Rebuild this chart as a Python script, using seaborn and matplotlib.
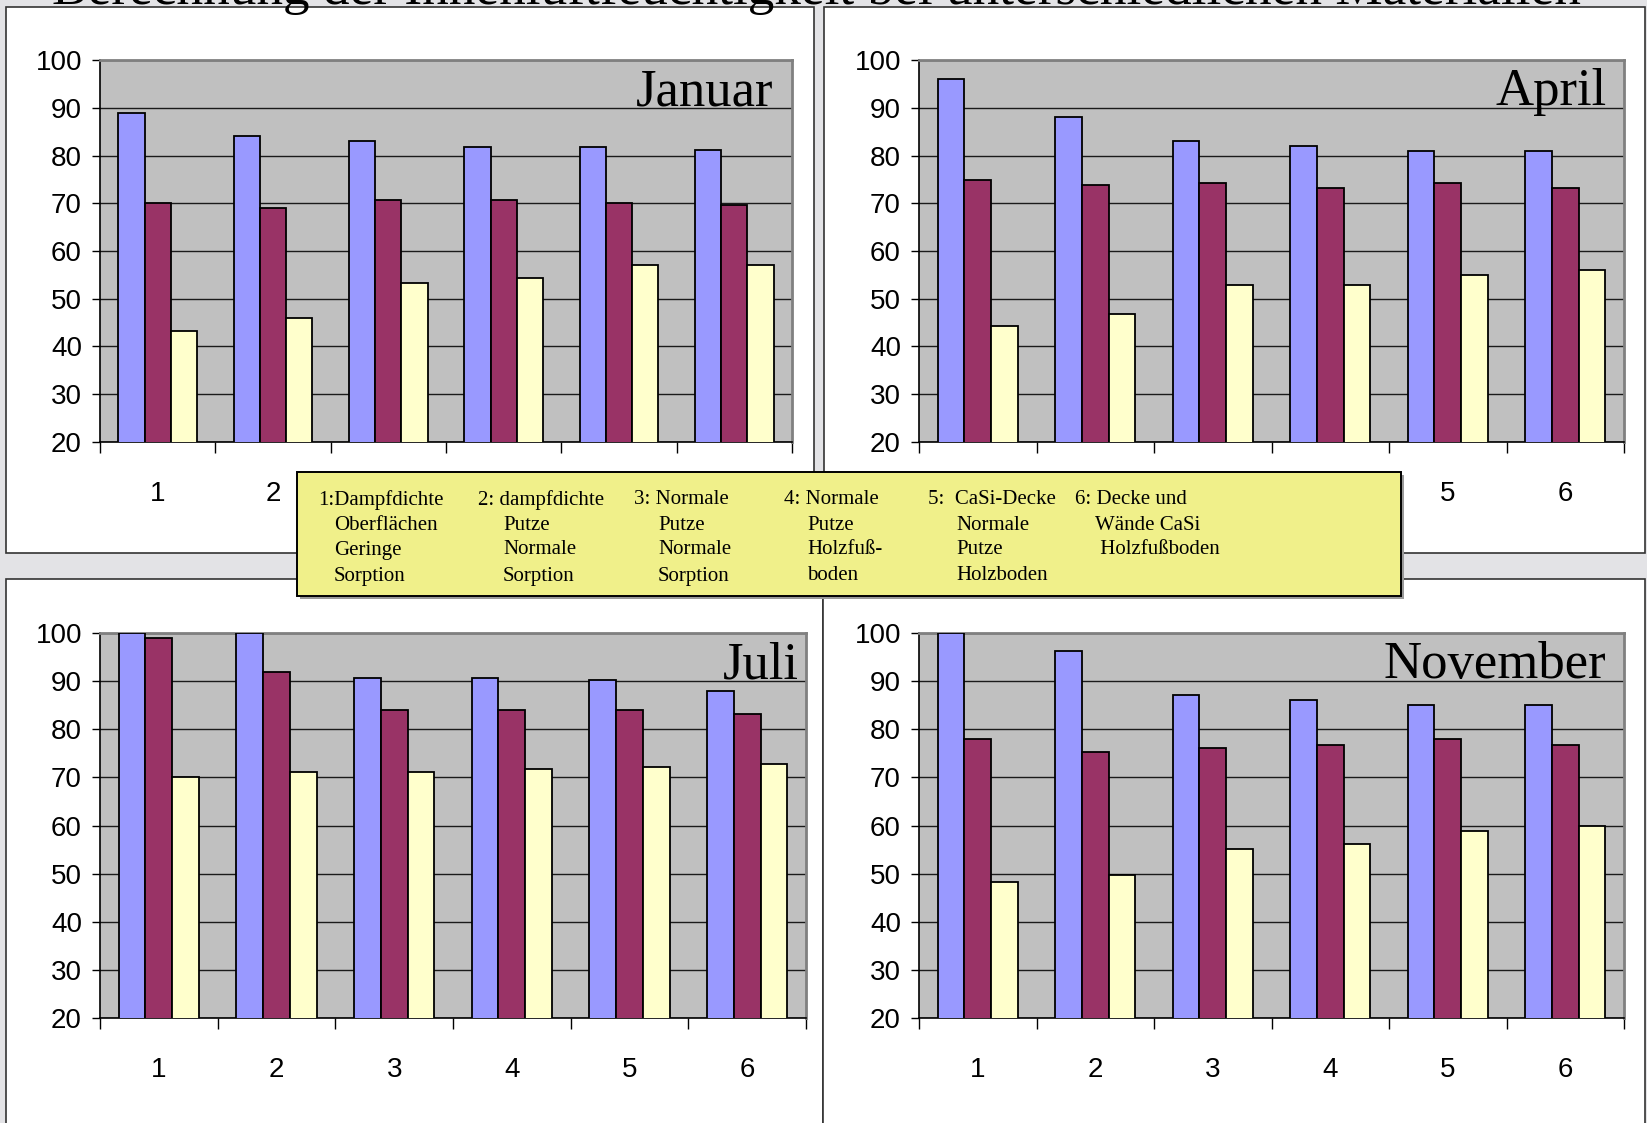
import numpy as np
import pandas as pd
import matplotlib
matplotlib.use("Agg")
import matplotlib.pyplot as plt
from matplotlib.patches import Rectangle
import seaborn as sns

# ---------------- data ----------------
categories = ["1", "2", "3", "4", "5", "6"]
series_names = ["Reihe 1", "Reihe 2", "Reihe 3"]
series_colors = ["#9999FF", "#993366", "#FFFFCC"]
months = ["Januar", "April", "Juli", "November"]

januar_r1 = [89.0, 84.0, 83.0, 81.8, 81.8, 81.2]
januar_r2 = [70.1, 69.1, 70.6, 70.6, 70.1, 69.6]
januar_r3 = [43.2, 46.0, 53.2, 54.3, 57.0, 57.0]

april_r1 = [96.1, 88.0, 83.1, 82.0, 81.0, 81.0]
april_r2 = [74.8, 73.8, 74.3, 73.2, 74.3, 73.2]
april_r3 = [44.2, 46.8, 52.8, 52.8, 55.0, 56.1]

juli_r1 = [100.0, 100.0, 90.7, 90.7, 90.2, 88.0]
juli_r2 = [98.9, 91.8, 84.1, 84.1, 84.1, 83.1]
juli_r3 = [70.0, 71.1, 71.1, 71.7, 72.2, 72.8]

november_r1 = [100.0, 96.3, 87.1, 86.0, 85.0, 85.0]
november_r2 = [77.9, 75.2, 76.2, 76.8, 77.9, 76.8]
november_r3 = [48.2, 49.8, 55.1, 56.2, 58.9, 60.0]

y_ticks = [20, 30, 40, 50, 60, 70, 80, 90, 100]

title_text = "Berechnung der Innenluftfeuchtigkeit bei unterschiedlichen Materialien"

legend_col1 = ["1:Dampfdichte", "Oberflächen", "Geringe", "Sorption"]
legend_col2 = ["2: dampfdichte", "Putze", "Normale", "Sorption"]
legend_col3 = ["3: Normale", "Putze", "Normale", "Sorption"]
legend_col4 = ["4: Normale", "Putze", "Holzfuß-", "boden"]
legend_col5 = ["5:  CaSi-Decke", "Normale", "Putze", "Holzboden"]
legend_col6 = ["6: Decke und", "Wände CaSi", " Holzfußboden"]

month_series = {
    "Januar": [januar_r1, januar_r2, januar_r3],
    "April": [april_r1, april_r2, april_r3],
    "Juli": [juli_r1, juli_r2, juli_r3],
    "November": [november_r1, november_r2, november_r3],
}

rows = []
for m in months:
    for s_name, vals in zip(series_names, month_series[m]):
        for c, v in zip(categories, vals):
            rows.append({"Monat": m, "Kategorie": c, "Reihe": s_name, "Wert": v})
df = pd.DataFrame(rows)

# ---------------- figure ----------------
W, H = 1647, 1123
fig = plt.figure(figsize=(W / 100, H / 100), dpi=100)
fig.patch.set_facecolor("#E3E3E6")

SERIF = "Liberation Serif"
SANS = "Liberation Sans"


def px_rect(x0, y0, x1, y1):
    """pixel box (top-left origin) -> figure fraction [l, b, w, h]"""
    return [x0 / W, 1 - y1 / H, (x1 - x0) / W, (y1 - y0) / H]


# panel frames (white boxes)
panels = [(6, 7, 814, 553), (824, 7, 1645, 553), (6, 579, 823, 1130), (823, 579, 1645, 1130)]
for (x0, y0, x1, y1) in panels:
    l, b, w, h = px_rect(x0, y0, x1, y1)
    fig.patches.append(Rectangle((l, b), w, h, transform=fig.transFigure,
                                 facecolor="white", edgecolor="#333333",
                                 linewidth=1.2, zorder=-5))

axes_boxes = {
    "Januar": (100, 60, 792, 442),
    "April": (919, 60, 1624, 442),
    "Juli": (100, 633, 806, 1018),
    "November": (919, 633, 1624, 1018),
}
label_x = {"Januar": 0.9725, "April": 0.975, "Juli": 0.99, "November": 0.975}

# legend box extent (pixels)
lx0, ly0, lx1, ly1 = 297, 472, 1401, 596

for m in months:
    bx0, by0, bx1, by1 = axes_boxes[m]
    ax = fig.add_axes(px_rect(bx0, by0, bx1, by1))
    sub = df[df["Monat"] == m]
    sns.barplot(data=sub, x="Kategorie", y="Wert", hue="Reihe",
                order=categories, hue_order=series_names,
                palette=series_colors, saturation=1, width=0.68, gap=0,
                edgecolor="black", linewidth=1.3, errorbar=None,
                legend=False, ax=ax, zorder=3)
    ax.set_facecolor("#C0C0C0")
    ax.set_ylim(20, 100)
    ax.set_xlim(-0.5, len(categories) - 0.5)
    ax.set_yticks(y_ticks)
    ax.set_yticklabels([str(t) for t in y_ticks], fontsize=20, family=SANS)
    ax.set_xticks(range(len(categories)))
    xlabels = ax.set_xticklabels(categories, fontsize=20, family=SANS)
    ax.set_xticks(np.arange(-0.5, len(categories), 1), minor=True)
    ax.set_xlabel("")
    ax.set_ylabel("")
    ax.yaxis.grid(True, color="#1A1A1A", linewidth=1.0, zorder=1)
    ax.xaxis.grid(False)
    ax.set_axisbelow(True)
    ax.tick_params(axis="y", which="major", length=6, width=1.0, color="black",
                   pad=7, labelcolor="black")
    ax.tick_params(axis="x", which="major", length=0, pad=28, labelcolor="black")
    ax.tick_params(axis="x", which="minor", length=8, width=1.0, color="black")
    for sp in ("top", "right"):
        ax.spines[sp].set_color("#808080")
        ax.spines[sp].set_linewidth(2.0)
    for sp in ("left", "bottom"):
        ax.spines[sp].set_color("black")
        ax.spines[sp].set_linewidth(1.2)
    # category labels that sit under the legend box are covered in the reference
    if by1 < ly0:
        for i, lab in enumerate(xlabels):
            cx = bx0 + (i + 0.5) / len(categories) * (bx1 - bx0)
            if lx0 - 10 < cx < lx1 + 10:
                lab.set_visible(False)
    ax.text(label_x[m], 0.882, m, transform=ax.transAxes, ha="right",
            va="baseline", fontsize=38, family=SERIF, color="black", zorder=5)

# legend box (drawn over the axes)
l, b, w, h = px_rect(lx0 + 3, ly0 + 3, lx1 + 3, ly1 + 3)
fig.patches.append(Rectangle((l, b), w, h, transform=fig.transFigure,
                             facecolor="#9A9A9A", edgecolor="none", zorder=9))
l, b, w, h = px_rect(lx0, ly0, lx1, ly1)
fig.patches.append(Rectangle((l, b), w, h, transform=fig.transFigure,
                             facecolor="#F0F08A", edgecolor="black",
                             linewidth=1.4, zorder=10))

legend_cols = [legend_col1, legend_col2, legend_col3, legend_col4, legend_col5, legend_col6]
col_first_x = [318, 478, 634, 784, 928, 1075]
col_other_x = [334, 503, 658, 807, 956, 1095]
line_y = [500, 525, 550, 576]
for col, fx, ox in zip(legend_cols, col_first_x, col_other_x):
    for i, line in enumerate(col):
        x = fx if i == 0 else ox
        fig.text(x / W, 1 - line_y[i] / H, line, ha="left", va="center",
                 fontsize=15, family=SERIF, color="black", zorder=11)

# title (cut off at the top edge)
t = fig.text(52 / W, 1 - 4 / H, title_text, ha="left", va="baseline",
             fontsize=36, family=SERIF, color="black", zorder=4)
fig.canvas.draw()
wt = t.get_window_extent().width
t.set_fontsize(36 * 1529 / wt)

fig.savefig("out.png", dpi=100, facecolor=fig.get_facecolor())
